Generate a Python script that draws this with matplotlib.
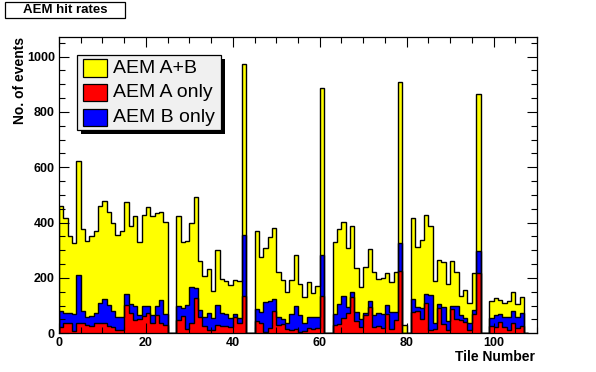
import numpy as np
import matplotlib
matplotlib.use("Agg")
import matplotlib.pyplot as plt
from matplotlib.patches import Rectangle
from matplotlib.ticker import MultipleLocator

plt.rcParams['font.family'] = ['Liberation Sans', 'DejaVu Sans']

# ---------------- data (events per tile, tiles 0..107) ----------------
series_names = ["AEM A+B", "AEM A only", "AEM B only"]

a_only = [24, 36, 36, 8, 36, 36, 29, 27, 36, 39, 39, 27, 24, 12, 12, 102, 75, 48, 53, 63, 75, 39, 66, 36, 30,
          0, 0,
          48, 64, 14, 36, 127, 60, 27, 12, 12, 29, 28, 25, 22, 60, 36, 136,
          0, 0,
          46, 36, 5, 20, 82, 29, 33, 16, 12, 17, 5, 8, 18, 14, 20, 136,
          0, 0,
          31, 34, 54, 75, 133, 45, 24, 65, 94, 24, 27, 18, 69, 14, 48, 224,
          0, 0,
          76, 82, 51, 108, 12, 14, 93, 34, 12, 87, 51, 48, 42, 12, 70, 217,
          0, 0,
          28, 24, 40, 24, 12, 36, 20, 26,
          0]

b_only = [57, 39, 36, 61, 175, 45, 31, 36, 39, 69, 85, 75, 57, 48, 48, 39, 30, 51, 13, 36, 24, 27, 33, 84, 39,
          0, 0,
          51, 26, 87, 133, 38, 24, 33, 63, 45, 72, 47, 45, 35, 9, 21, 219,
          0, 0,
          41, 42, 109, 97, 41, 31, 20, 20, 58, 83, 61, 28, 40, 44, 40, 146,
          0, 0,
          38, 72, 82, 21, 15, 33, 27, 10, 24, 42, 48, 52, 32, 64, 30, 101,
          0, 0,
          47, 14, 39, 34, 127, 22, 13, 62, 34, 12, 48, 18, 12, 24, 14, 81,
          0, 0,
          26, 42, 29, 34, 46, 45, 38, 49,
          0]

a_and_b = [380, 342, 281, 257, 411, 296, 273, 288, 296, 353, 353, 335, 318, 294, 310, 334, 283, 325, 264, 327,
           358, 357, 336, 320, 333,
           0, 0,
           326, 240, 233, 229, 329, 177, 146, 156, 95, 199, 121, 118, 116, 123, 131, 617,
           0, 0,
           284, 199, 193, 230, 257, 162, 140, 112, 123, 182, 111, 94, 126, 87, 112, 604,
           0, 0,
           260, 272, 268, 211, 241, 157, 115, 164, 186, 154, 120, 129, 116, 106, 142, 585,
           30, 0,
           293, 215, 247, 286, 249, 153, 159, 161, 132, 162, 124, 69, 103, 72, 133, 566,
           0, 0,
           64, 62, 51, 50, 58, 67, 47, 55,
           0]

x_ticks = [0, 20, 40, 60, 80, 100]
y_ticks = [0, 200, 400, 600, 800, 1000]

# ---------------- figure ----------------
W, H = 596, 372
fig = plt.figure(figsize=(W / 100, H / 100), dpi=100)
fig.patch.set_facecolor('white')

def fx(x):
    return x / W

def fy(y):
    return 1 - y / H

ax_l, ax_r, ax_t, ax_b = 59, 537, 37.3, 333.3
ax = fig.add_axes([fx(ax_l), fy(ax_b), (ax_r - ax_l) / W, (ax_b - ax_t) / H])

a = np.array(a_only, float)
b = np.array(b_only, float)
ab = np.array(a_and_b, float)
edges = np.arange(len(a) + 1)

red_top = a
blue_top = a + b
tot_top = a + b + ab

layers = [(tot_top, '#ffff00'), (blue_top, '#0000ff'), (red_top, '#ff0000')]
for vals, col in layers:
    ax.stairs(vals, edges, baseline=0, fill=True, facecolor=col, edgecolor='none', linewidth=0)
for vals, col in layers:
    ax.stairs(vals, edges, baseline=0, fill=False, color='black', linewidth=1.0)

ax.set_xlim(0, 110)
ax.set_ylim(0, 1070)
ax.xaxis.set_major_locator(MultipleLocator(20))
ax.xaxis.set_minor_locator(MultipleLocator(5))
ax.yaxis.set_major_locator(MultipleLocator(200))
ax.yaxis.set_minor_locator(MultipleLocator(50))
ax.set_xticks(x_ticks)
ax.set_yticks(y_ticks)
ax.tick_params(which='both', direction='in', top=True, right=True, width=0.8, color='black')
ax.tick_params(which='major', length=7.5, pad=3)
ax.tick_params(which='minor', length=4.5)
for lab in ax.get_xticklabels() + ax.get_yticklabels():
    lab.set_fontweight('bold')
    lab.set_fontsize(9)
for s in ax.spines.values():
    s.set_linewidth(0.9)
    s.set_color('black')

# axis titles (ROOT style: aligned to the end of the axes)
fig.text(fx(20), fy(ax_t), "No. of events", rotation=90, ha='center', va='top',
         fontsize=10, fontweight='bold')
fig.text(fx(535), fy(357), "Tile Number", ha='right', va='center',
         fontsize=10, fontweight='bold')

# title box
fig.add_artist(Rectangle((fx(5), fy(17.7)), fx(125) - fx(5), fy(1.7) - fy(17.7),
                         transform=fig.transFigure, facecolor='white', edgecolor='black', linewidth=0.9))
fig.text(fx(65), fy(9.8), "AEM hit rates", ha='center', va='center', fontsize=9.5, fontweight='bold')

# legend with shadow
lx0, lx1, ly0, ly1 = 77.3, 220.7, 55, 130
sh = 4
fig.add_artist(Rectangle((fx(lx0 + sh), fy(ly1 + sh)), fx(lx1) - fx(lx0), fy(ly0) - fy(ly1),
                         transform=fig.transFigure, facecolor='black', edgecolor='black', linewidth=0))
fig.add_artist(Rectangle((fx(lx0), fy(ly1)), fx(lx1) - fx(lx0), fy(ly0) - fy(ly1),
                         transform=fig.transFigure, facecolor='#f0f0f0', edgecolor='black', linewidth=0.9))
leg_colors = ['#ffff00', '#ff0000', '#0000ff']
sw_y = [(59.3, 76.7), (84.0, 100.7), (108.7, 126.0)]
for name, col, (y0, y1) in zip(series_names, leg_colors, sw_y):
    fig.add_artist(Rectangle((fx(82.7), fy(y1)), fx(107.3) - fx(82.7), fy(y0) - fy(y1),
                             transform=fig.transFigure, facecolor=col, edgecolor='black', linewidth=0.9))
    fig.text(fx(113), fy((y0 + y1) / 2 + 0.5), name, ha='left', va='center', fontsize=14)

fig.savefig("out.png", dpi=100)
